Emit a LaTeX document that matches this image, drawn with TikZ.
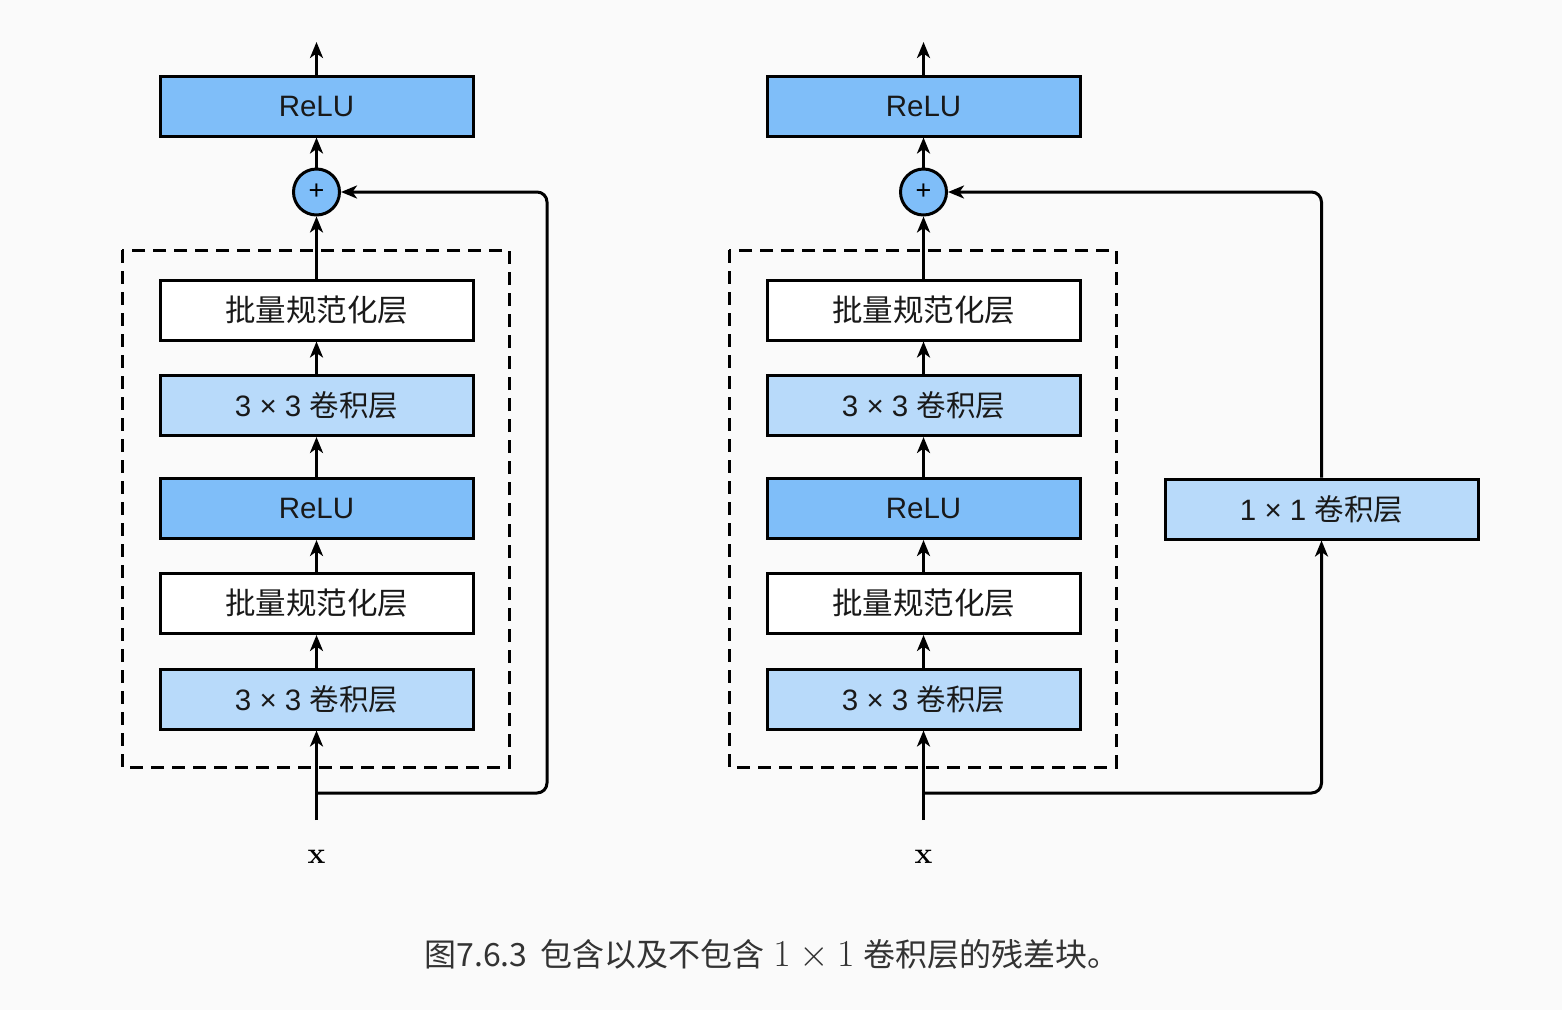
\documentclass[tikz,border=0pt]{standalone}
\usepackage{fix-cm}
\usepackage{amsmath}
\usepackage[no-math]{fontspec}
\setmainfont{Liberation Sans}
\newfontfamily\cjk{Noto Sans CJK SC}
\usepackage{tikz}
\usetikzlibrary{arrows.meta}
\definecolor{bgGray}{HTML}{FAFAFA}
\definecolor{reluBlue}{HTML}{7FBEF9}
\definecolor{convBlue}{HTML}{B8DAFA}

\begin{document}
\begin{tikzpicture}[x=1pt, y=-1pt,
    box/.style={draw=black, line width=3pt, minimum width=313pt,
      minimum height=60pt, inner sep=0pt, text=black!90,
      font=\fontsize{29.5}{34}\selectfont},
    relubox/.style={box, fill=reluBlue},
    convbox/.style={box, fill=convBlue},
    bnbox/.style={box, fill=white},
    addnode/.style={circle, draw=black, line width=3pt, fill=reluBlue,
      minimum size=46pt, inner sep=0pt, font=\fontsize{27}{27}\selectfont},
    flow/.style={line width=3pt, -{Stealth[length=16pt, width=13pt, inset=4.5pt]}},
    skip/.style={flow, rounded corners=10pt},
    group/.style={draw=black, line width=3pt, dash pattern=on 13pt off 8pt}]
    % background
    \fill[bgGray] (0, 0) rectangle (1562, 1010);
    \useasboundingbox (0, 0) rectangle (1562, 1010);

    % left block, without 1x1 conv
    \draw[group] (122, 250) rectangle (509, 767);
    \node[relubox](reluTopL) at (316.5, 106){ReLU};
    \node[addnode](addL) at (316.5, 192){+};
    \node[bnbox](bnTwoL) at (316.5, 310){\cjk\fontsize{30.5}{34}\selectfont 批量规范化层};
    \node[convbox](convTwoL) at (316.5, 405.5){3 × 3 {\cjk 卷积层}};
    \node[relubox](reluMidL) at (316.5, 508.5){ReLU};
    \node[bnbox](bnOneL) at (316.5, 603.5){\cjk\fontsize{30.5}{34}\selectfont 批量规范化层};
    \node[convbox](convOneL) at (316.5, 699){3 × 3 {\cjk 卷积层}};
    \node[](xL) at (316.5, 857){\fontsize{30}{30}\selectfont$\mathbf{x}$};
    \coordinate (inL) at (316.5, 820);
    \coordinate (forkL) at (316.5, 793);
    \coordinate (outL) at (316.5, 42);
    % main path
    \draw[flow] (inL) -- (convOneL.south);
    \draw[flow] (convOneL) -- (bnOneL);
    \draw[flow] (bnOneL) -- (reluMidL);
    \draw[flow] (reluMidL) -- (convTwoL);
    \draw[flow] (convTwoL) -- (bnTwoL);
    \draw[flow] (bnTwoL) -- (addL);
    \draw[flow] (addL) -- (reluTopL);
    \draw[flow] (reluTopL) -- (outL);
    % identity shortcut
    \draw[skip] (forkL) -- (547, 793) -- (547, 192) -- (addL);

    % right block, with 1x1 conv
    \draw[group] (729, 250) rectangle (1116, 767);
    \node[relubox](reluTopR) at (923.5, 106){ReLU};
    \node[addnode](addR) at (923.5, 192){+};
    \node[bnbox](bnTwoR) at (923.5, 310){\cjk\fontsize{30.5}{34}\selectfont 批量规范化层};
    \node[convbox](convTwoR) at (923.5, 405.5){3 × 3 {\cjk 卷积层}};
    \node[relubox](reluMidR) at (923.5, 508.5){ReLU};
    \node[bnbox](bnOneR) at (923.5, 603.5){\cjk\fontsize{30.5}{34}\selectfont 批量规范化层};
    \node[convbox](convOneR) at (923.5, 699){3 × 3 {\cjk 卷积层}};
    \node[convbox](convSkipR) at (1321.5, 509){1 × 1 {\cjk 卷积层}};
    \node[](xR) at (923.5, 857){\fontsize{30}{30}\selectfont$\mathbf{x}$};
    \coordinate (inR) at (923.5, 820);
    \coordinate (forkR) at (923.5, 793);
    \coordinate (outR) at (923.5, 42);
    % main path
    \draw[flow] (inR) -- (convOneR.south);
    \draw[flow] (convOneR) -- (bnOneR);
    \draw[flow] (bnOneR) -- (reluMidR);
    \draw[flow] (reluMidR) -- (convTwoR);
    \draw[flow] (convTwoR) -- (bnTwoR);
    \draw[flow] (bnTwoR) -- (addR);
    \draw[flow] (addR) -- (reluTopR);
    \draw[flow] (reluTopR) -- (outR);
    % projection shortcut
    \draw[skip] (forkR) -- (1321.5, 793) -- (convSkipR.south);
    \draw[skip] (convSkipR.north) -- (1321.5, 192) -- (addR);

    % caption
    \node[](caption) at (772, 955){\fontsize{32}{32}\selectfont\color{black!80}%
      {\cjk 图7.6.3\hspace{0.4em}包含以及不包含}
      {\fontsize{38}{38}\selectfont$1\times1$} {\cjk 卷积层的残差块。}};
\end{tikzpicture}
\end{document}
